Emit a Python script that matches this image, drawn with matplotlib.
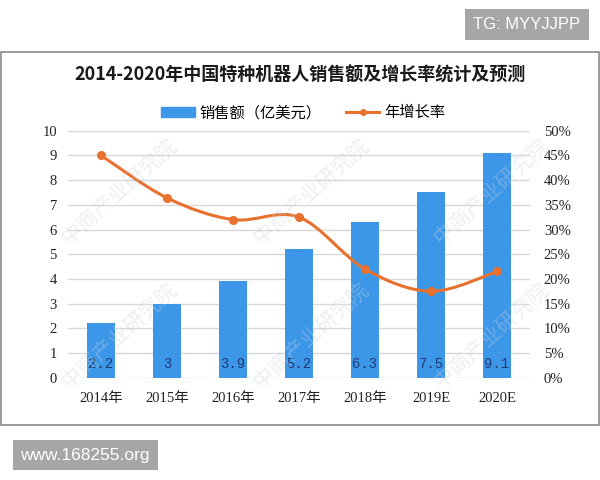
import numpy as np
from matplotlib import pyplot as plt
from matplotlib.path import Path
from matplotlib.patches import PathPatch, Rectangle, Patch
from matplotlib.lines import Line2D

# chart data
years = ['2014年', '2015年', '2016年', '2017年', '2018年', '2019E', '2020E']
sales = [2.2, 3, 3.9, 5.2, 6.3, 7.5, 9.1]          # 亿美元
growth = [45.0, 36.4, 32.0, 32.5, 22.0, 17.5, 21.5]  # %

bar_color = '#3c97e8'
line_color = '#e8712e'
serif = ['Liberation Serif', 'Noto Sans CJK SC']
cjk = ['Noto Sans CJK SC', 'DejaVu Sans']


def smooth_path(xs, ys):
    # Excel style smoothed line: Catmull-Rom segments as cubic Bezier
    pts = list(zip(xs, ys))
    verts, codes = [pts[0]], [Path.MOVETO]
    for i in range(len(pts) - 1):
        p0 = pts[i - 1] if i > 0 else pts[i]
        p1, p2 = pts[i], pts[i + 1]
        p3 = pts[i + 2] if i + 2 < len(pts) else pts[i + 1]
        c1 = (p1[0] + (p2[0] - p0[0]) / 6, p1[1] + (p2[1] - p0[1]) / 6)
        c2 = (p2[0] - (p3[0] - p1[0]) / 6, p2[1] - (p3[1] - p1[1]) / 6)
        verts += [c1, c2, p2]
        codes += [Path.CURVE4] * 3
    return Path(verts, codes)


fig = plt.figure(figsize=(6, 4.8), dpi=100)
fig.patch.set_facecolor('white')

# outer chart frame
fig.patches.append(Rectangle((0.001, 0.1146), 0.997, 0.777, transform=fig.transFigure,
                             facecolor='none', edgecolor='#8a8a8a', lw=1.2, zorder=-1))

ax = fig.add_axes([0.1133, 0.2131, 0.77, 0.5146])
ax.set_facecolor('none')
x = np.arange(len(years))
ax.bar(x, sales, width=0.42, color=bar_color, zorder=2)
for xi, v in zip(x, sales):
    ax.text(xi, 0.55, f'{v:g}', ha='center', va='center', fontsize=10,
            family='Liberation Mono', color='#1f3b78', zorder=4)

ax.set_xlim(-0.5, len(years) - 0.5)
ax.set_ylim(0, 10)
ax.set_yticks(range(0, 11))
ax.set_xticks(x)
ax.set_xticklabels(years, family=serif, fontsize=10.5)
for lab in ax.get_yticklabels():
    lab.set_family(serif)
    lab.set_fontsize(10.5)
ax.tick_params(length=0, pad=8, colors='#222222')
ax.tick_params(axis='x', pad=10)
ax.grid(axis='y', color='#d9d9d9', lw=1, zorder=0)
ax.set_axisbelow(True)
for s in ax.spines.values():
    s.set_visible(False)

ax2 = ax.twinx()
ax2.set_ylim(0, 50)
ax2.set_yticks(range(0, 51, 5))
ax2.set_yticklabels([f'{t}%' for t in range(0, 51, 5)], family=serif, fontsize=10.5)
ax2.tick_params(length=0, pad=10, colors='#222222')
for s in ax2.spines.values():
    s.set_visible(False)
ax2.add_patch(PathPatch(smooth_path(x, growth), facecolor='none', edgecolor=line_color,
                        lw=2.2, zorder=3))
ax2.plot(x, growth, 'o', color=line_color, ms=5.5, zorder=4)

# legend
handles = [Patch(color=bar_color, label='销售额（亿美元）'),
           Line2D([0], [0], color=line_color, lw=2.2, marker='o', ms=4, label='年增长率')]
fig.legend(handles=handles, loc='center', bbox_to_anchor=(0.505, 0.765), ncol=2,
           frameon=False, prop={'family': cjk, 'size': 11}, handlelength=2.2,
           handletextpad=0.3, columnspacing=1.6)

fig.text(0.5, 0.843, '2014-2020年中国特种机器人销售额及增长率统计及预测', ha='center', va='center',
         fontsize=13, fontweight='bold', family=cjk, color='#1a1a1a')

# watermarks
for wx, wy in [(0.2, 0.6), (0.52, 0.6), (0.82, 0.6), (0.2, 0.3), (0.52, 0.3), (0.82, 0.3)]:
    fig.text(wx, wy, '中商产业研究院', rotation=42, ha='center', va='center', fontsize=15,
             family=cjk, color='#c8d2de', alpha=0.35, zorder=5)

# corner tags
fig.text(0.878, 0.949, 'TG: MYYJJPP', ha='center', va='center', fontsize=12, color='white',
         family='Liberation Sans',
         bbox=dict(boxstyle='square,pad=0.5', facecolor='#a6a6a6', edgecolor='none'))
fig.text(0.142, 0.052, 'www.168255.org', ha='center', va='center', fontsize=12.5, color='white',
         family='Liberation Sans',
         bbox=dict(boxstyle='square,pad=0.45', facecolor='#a6a6a6', edgecolor='none'))

fig.savefig('out.png', dpi=100)
